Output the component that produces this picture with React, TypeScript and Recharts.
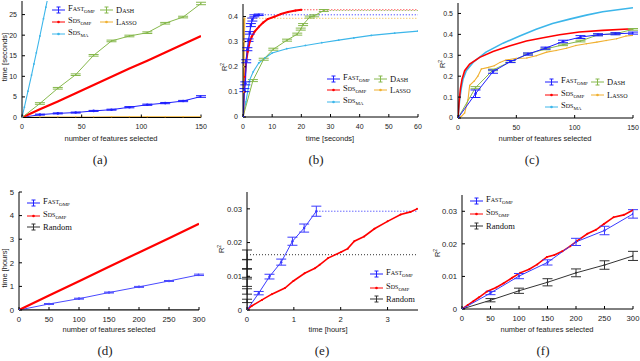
import React from 'react';
import { LineChart, Line, XAxis, YAxis, ErrorBar } from 'recharts';

// ---------- data ----------
// (a) running time vs number of features
const aFeat = [0, 15, 30, 45, 60, 75, 90, 105, 120, 135, 150];
const aFastTime = [0, 0.7, 1.0, 1.2, 1.6, 1.9, 2.5, 3.1, 3.5, 4.0, 5.1];
const aFastErr = [0, 0.12, 0.12, 0.12, 0.12, 0.12, 0.15, 0.15, 0.15, 0.15, 0.2];
const aSdsOmpTime = [0, 2.0, 3.9, 5.9, 7.9, 9.9, 11.9, 13.8, 15.8, 17.8, 19.8];
const aSdsMaFeat = [0, 2, 5, 8, 10, 12, 15, 18, 20, 22];
const aSdsMaTime = [0, 2.5, 6.4, 10.3, 13, 15.7, 19.8, 24, 26.8, 29.6];
const aDashTime = [0, 3.4, 7.1, 10.4, 15.1, 18.6, 19.8, 20.6, 22.9, 24.4, 27.7];
const aDashErr = [0, 0.2, 0.2, 0.2, 0.2, 0.2, 0.2, 0.2, 0.2, 0.2, 0.3];
const aLassoTime = [0, 0.08, 0.1, 0.12, 0.12, 0.13, 0.15, 0.14, 0.13, 0.14, 0.15];

// (b) R^2 vs time (seconds)
const bFastT = [0, 0.5, 0.8, 1.1, 1.5, 1.9, 2.3, 2.7, 3.2, 3.9, 5.4];
const bFastR = [0, 0.107, 0.134, 0.222, 0.27, 0.306, 0.335, 0.366, 0.388, 0.403, 0.407];
const bFastErr = [0, 0.006, 0.006, 0.006, 0.006, 0.005, 0.005, 0.006, 0.006, 0.004, 0.003];
const bSdsOmpT = [0, 0.3, 0.6, 1.1, 1.6, 2.3, 3, 4, 5.5, 6.9, 8.5, 10.9, 13, 15.4, 18, 20];
const bSdsOmpR = [0, 0.1, 0.16, 0.222, 0.26, 0.3, 0.32, 0.34, 0.36, 0.376, 0.39, 0.4, 0.41, 0.418, 0.424, 0.427];
const bSdsMaT = [0, 1, 2.3, 3.5, 5.4, 7.5, 10, 15, 21.4, 27, 32.8, 38, 44, 52, 60];
const bSdsMaR = [0, 0.06, 0.148, 0.18, 0.215, 0.235, 0.255, 0.272, 0.285, 0.296, 0.306, 0.315, 0.325, 0.334, 0.342];
const bDashT = [0, 3.4, 7.1, 10.4, 15.1, 18.6, 19.8, 20.6, 22.9, 24.4, 27.7];
const bDashR = [0, 0.145, 0.23, 0.27, 0.306, 0.33, 0.35, 0.368, 0.398, 0.403, 0.424];
const bDashErr = [0, 0.004, 0.004, 0.004, 0.004, 0.004, 0.004, 0.004, 0.004, 0.004, 0.004];
const bLassoT = [0, 0.1, 0.2, 0.3, 0.45];
const bLassoR = [0, 0.1, 0.2, 0.3, 0.393];

// (c) R^2 vs number of features
const cFeat = [0, 15, 30, 45, 60, 75, 90, 105, 120, 135, 150];
const cFastR = [0, 0.116, 0.222, 0.27, 0.306, 0.334, 0.366, 0.387, 0.398, 0.403, 0.406];
const cFastErr = [0, 0.018, 0.008, 0.005, 0.005, 0.005, 0.006, 0.007, 0.005, 0.005, 0.005];
const cDashR = [0, 0.145, 0.23, 0.27, 0.306, 0.33, 0.35, 0.368, 0.398, 0.403, 0.424];
const cDashErr = [0, 0.005, 0.004, 0.004, 0.004, 0.004, 0.004, 0.004, 0.004, 0.004, 0.004];
const cSdsMaK = [0, 1.4, 2.9, 4.3, 7.1, 12.9, 24, 38.6, 52.9, 67, 81, 95.7, 110, 124, 150];
const cSdsMaR = [0, 0.089, 0.145, 0.185, 0.226, 0.266, 0.315, 0.358, 0.392, 0.424, 0.452, 0.473, 0.492, 0.508, 0.527];
const cSdsOmpK = [0, 0.9, 2, 3.4, 5.7, 10, 18.6, 30, 44, 58.6, 73, 87, 104, 124, 150];
const cSdsOmpR = [0, 0.073, 0.137, 0.185, 0.226, 0.258, 0.29, 0.318, 0.344, 0.368, 0.384, 0.398, 0.411, 0.419, 0.427];
const cLassoK = [0, 3, 5.7, 8.6, 10, 14, 17, 20, 26, 31, 36, 41, 50, 59, 67, 76, 84, 93, 101, 110, 119, 127, 136, 144, 150];
const cLassoR = [0, 0.008, 0.024, 0.089, 0.156, 0.177, 0.2, 0.234, 0.242, 0.25, 0.266, 0.277, 0.285, 0.287, 0.298, 0.315, 0.323, 0.334, 0.347, 0.355, 0.363, 0.371, 0.379, 0.392, 0.395];

// (d) time (hours) vs number of features
const dFeat = [0, 50, 100, 150, 200, 250, 300];
const dFastH = [0, 0.255, 0.48, 0.74, 0.98, 1.23, 1.49];
const dFastErr = [0, 0.02, 0.02, 0.02, 0.02, 0.02, 0.03];
const dSdsOmpH = [0, 0.61, 1.22, 1.83, 2.44, 3.04, 3.65];
const dRandomH = [0, 0, 0, 0, 0, 0, 0];

// (e) R^2 vs time (hours)
const eFastT = [0, 0.25, 0.48, 0.73, 0.97, 1.22, 1.48];
const eFastR = [0, 0.005, 0.0099, 0.0142, 0.0204, 0.0243, 0.0293];
const eFastErr = [0, 0.0005, 0.0007, 0.0009, 0.0012, 0.0012, 0.0015];
const eSdsT = [0, 0.1, 0.32, 0.53, 0.81, 0.99, 1.23, 1.45, 1.55, 1.73, 2.01, 2.15, 2.29, 2.5, 2.72, 3.0, 3.28, 3.49, 3.63];
const eSdsR = [0, 0.0012, 0.003, 0.0047, 0.0065, 0.0086, 0.0109, 0.0124, 0.0134, 0.0154, 0.0172, 0.0182, 0.0204, 0.0218, 0.0241, 0.0263, 0.0283, 0.0291, 0.03];
const eRandT = [0, 0, 0, 0, 0, 0, 0];
const eRandR = [0, 0.0027, 0.0055, 0.0081, 0.0109, 0.0136, 0.0164];
const eRandErr = [0, 0.0005, 0.0008, 0.0011, 0.0012, 0.0013, 0.0014];

// (f) R^2 vs number of features
const fFeat = [0, 50, 100, 150, 200, 250, 300];
const fFastR = [0, 0.0049, 0.0101, 0.0143, 0.0206, 0.0241, 0.0292];
const fFastErr = [0, 0.0005, 0.0008, 0.0008, 0.0011, 0.0013, 0.0013];
const fRandR = [0, 0.0027, 0.0056, 0.0082, 0.0111, 0.0135, 0.0163];
const fRandErr = [0, 0.0005, 0.0008, 0.0011, 0.0012, 0.0013, 0.0014];
const fSdsK = [0, 10, 20, 30, 44, 60, 73, 88, 102, 118, 132, 149, 162, 176, 190, 202, 220, 235, 249, 266, 284, 300];
const fSdsR = [0, 0.0012, 0.0024, 0.0036, 0.0054, 0.0066, 0.0079, 0.0096, 0.0111, 0.0122, 0.0137, 0.016, 0.0166, 0.0177, 0.0193, 0.0209, 0.0231, 0.0243, 0.0261, 0.0282, 0.0289, 0.0304];

// ticks
const ticksFeat150 = [0, 50, 100, 150];
const ticksFeat300 = [0, 50, 100, 150, 200, 250, 300];
const ticksSec = [0, 10, 20, 30, 40, 50, 60];
const ticksHours = [0, 1, 2, 3];
const ticksTimeA = [0, 5, 10, 15, 20, 25];
const ticksR2b = [0, 0.1, 0.2, 0.3, 0.4];
const ticksR2c = [0, 0.1, 0.2, 0.3, 0.4, 0.5];
const ticksTimeD = [0, 1, 2, 3, 4, 5];
const ticksR2small = [0, 0.01, 0.02, 0.03];

// ---------- helpers ----------
type Pt = { x: number; y: number; e?: number };
const zip = (xs: number[], ys: number[], es?: number[]): Pt[] =>
  xs.map((x, i) => ({ x, y: ys[i], e: es ? es[i] : undefined }));
const last = (xs: number[], ys: number[]) => ({ x: xs[xs.length - 1], y: ys[ys.length - 1] });
const flat = (xs: number[], ys: number[], xEnd: number): Pt[] => {
  const p = last(xs, ys);
  return [p, { x: xEnd, y: p.y }];
};

const BLUE = '#1f1fff';
const RED = '#ff0000';
const CYAN = '#3cb6ea';
const GREEN = '#86b84c';
const ORANGE = '#f0b030';
const BLACK = '#333333';
const SANS = '"Liberation Sans", Arial, sans-serif';
const SERIF = '"Liberation Serif", "Times New Roman", serif';

const YW = 30, TM = 4, RM = 14, XH = 18;

type Box = { x0: number; x1: number; y0: number; y1: number };

function Panel(props: {
  box: Box; xDomain: number[]; yDomain: number[]; xTicks: number[]; yTicks: number[]; fs: number; children: React.ReactNode;
}) {
  const { box, xDomain, yDomain, xTicks, yTicks, fs, children } = props;
  const w = box.x1 - box.x0;
  const h = box.y1 - box.y0;
  const tickStyle = { fontSize: fs, fill: '#222', fontFamily: SANS };
  return (
    <div style={{ position: 'absolute', left: box.x0 - YW, top: box.y0 - TM }}>
      <LineChart width={YW + w + RM} height={TM + h + XH} margin={{ top: TM, right: RM, left: 0, bottom: 0 }}>
        <XAxis type="number" dataKey="x" domain={xDomain} ticks={xTicks} interval={0} allowDataOverflow height={XH}
          tickSize={-3} tickMargin={10} tick={tickStyle} stroke="#000" />
        <XAxis xAxisId="t" orientation="top" type="number" dataKey="x" domain={xDomain} ticks={xTicks} interval={0}
          allowDataOverflow height={0} tickSize={-3} tick={false} stroke="#000" />
        <YAxis type="number" domain={yDomain} ticks={yTicks} interval={0} allowDataOverflow width={YW}
          tickSize={-3} tickMargin={8} tick={tickStyle} stroke="#000" />
        <YAxis yAxisId="r" orientation="right" type="number" domain={yDomain} ticks={yTicks} interval={0}
          allowDataOverflow width={0} tickSize={-3} tick={false} stroke="#000" />
        {children}
      </LineChart>
    </div>
  );
}

function errLine(key: string, data: Pt[], color: string, sw = 1, r = 1.3) {
  return (
    <Line key={key} data={data} dataKey="y" stroke={color} strokeWidth={sw} isAnimationActive={false}
      dot={{ r, fill: color, stroke: color, strokeWidth: 0 }} activeDot={false}>
      <ErrorBar dataKey="e" width={5} stroke={color} strokeWidth={1} direction="y" isAnimationActive={false} />
    </Line>
  );
}
function dotLine(key: string, data: Pt[], color: string, sw = 1, r = 1) {
  return (
    <Line key={key} data={data} dataKey="y" stroke={color} strokeWidth={sw} isAnimationActive={false}
      dot={r > 0 ? { r, fill: color, stroke: color, strokeWidth: 0 } : false} activeDot={false} />
  );
}
function dotted(key: string, data: Pt[], color: string) {
  return (
    <Line key={key} data={data} dataKey="y" stroke={color} strokeWidth={1} strokeDasharray="1 2"
      isAnimationActive={false} dot={false} activeDot={false} />
  );
}

// ---------- text helpers ----------
function Txt(props: { x: number; y: number; rot?: boolean; size: number; family: string; children: React.ReactNode }) {
  const { x, y, rot, size, family, children } = props;
  return (
    <div style={{
      position: 'absolute', left: x, top: y, transform: `translate(-50%,-50%)${rot ? ' rotate(-90deg)' : ''}`,
      fontSize: size, fontFamily: family, whiteSpace: 'nowrap', lineHeight: 1, color: '#222',
    }}>{children}</div>
  );
}
const R2 = () => (<span>R<sup style={{ fontSize: 5, verticalAlign: '3px' }}>2</sup></span>);

function Name(props: { main: string; sub?: string; sc?: boolean }) {
  return (
    <span>
      <span style={{ fontVariant: props.sc === false ? 'normal' : 'small-caps' }}>{props.main}</span>
      {props.sub ? <span style={{ fontSize: 5, verticalAlign: '-2px' }}>{props.sub}</span> : null}
    </span>
  );
}

function Leg(props: { x: number; y: number; color: string; kind: 'err' | 'dot'; children: React.ReactNode }) {
  const { x, y, color, kind, children } = props;
  return (
    <div style={{
      position: 'absolute', left: x, top: y - 6, height: 12, display: 'flex', alignItems: 'center',
      whiteSpace: 'nowrap', fontFamily: SERIF, fontSize: 8.5, color: '#111', lineHeight: '12px',
    }}>
      <svg width={13} height={12} style={{ marginRight: 3, display: 'block' }}>
        <line x1={0} y1={6} x2={13} y2={6} stroke={color} strokeWidth={1} />
        {kind === 'err' ? (
          <g stroke={color} strokeWidth={1}>
            <line x1={6.5} y1={3} x2={6.5} y2={9} />
            <line x1={4.5} y1={3} x2={8.5} y2={3} />
            <line x1={4.5} y1={9} x2={8.5} y2={9} />
          </g>
        ) : (
          <circle cx={6.5} cy={6} r={1.3} fill={color} />
        )}
      </svg>
      {children}
    </div>
  );
}

function Legend5(props: { c1: number; c2: number; rows: number[] }) {
  const { c1, c2, rows } = props;
  return (
    <>
      <Leg x={c1} y={rows[0]} color={BLUE} kind="err"><Name main="Fast" sub="OMP" /></Leg>
      <Leg x={c1} y={rows[1]} color={RED} kind="dot"><Name main="Sds" sub="OMP" /></Leg>
      <Leg x={c1} y={rows[2]} color={CYAN} kind="dot"><Name main="Sds" sub="MA" /></Leg>
      <Leg x={c2} y={rows[0]} color={GREEN} kind="err"><Name main="Dash" /></Leg>
      <Leg x={c2} y={rows[1]} color={ORANGE} kind="dot"><Name main="Lasso" /></Leg>
    </>
  );
}
function Legend3(props: { c1: number; rows: number[] }) {
  const { c1, rows } = props;
  return (
    <>
      <Leg x={c1} y={rows[0]} color={BLUE} kind="err"><Name main="Fast" sub="OMP" /></Leg>
      <Leg x={c1} y={rows[1]} color={RED} kind="dot"><Name main="Sds" sub="OMP" /></Leg>
      <Leg x={c1} y={rows[2]} color={BLACK} kind="err"><Name main="Random" sc={false} /></Leg>
    </>
  );
}

const boxA: Box = { x0: 22, x1: 201, y0: 0.5, y1: 117 };
const boxB: Box = { x0: 243, x1: 418, y0: 4, y1: 117 };
const boxC: Box = { x0: 458, x1: 633, y0: 3, y1: 118 };
const boxD: Box = { x0: 19, x1: 199, y0: 192, y1: 310 };
const boxE: Box = { x0: 247, x1: 418, y0: 192, y1: 310 };
const boxF: Box = { x0: 462, x1: 633, y0: 195, y1: 309 };

export default function App() {
  return (
    <div style={{ position: 'absolute', left: 0, top: 0, width: 640, height: 361, background: '#fff', overflow: 'hidden' }}>
      {/* (a) */}
      <Panel box={boxA} xDomain={[0, 150]} yDomain={[0, 28.3]} xTicks={ticksFeat150} yTicks={ticksTimeA} fs={7}>
        {errLine('aFast', zip(aFeat, aFastTime, aFastErr), BLUE, 1)}
        {dotLine('aSdsOmp', zip(aFeat, aSdsOmpTime), RED, 2.2, 0)}
        {dotLine('aSdsMa', zip(aSdsMaFeat, aSdsMaTime), CYAN, 1.1, 0.9)}
        {errLine('aDash', zip(aFeat, aDashTime, aDashErr), GREEN, 1, 0.8)}
        {dotLine('aLasso', zip(aFeat, aLassoTime), ORANGE, 1.2, 0.8)}
      </Panel>
      {/* (b) */}
      <Panel box={boxB} xDomain={[0, 60]} yDomain={[0, 0.45]} xTicks={ticksSec} yTicks={ticksR2b} fs={7}>
        {dotted('bFastD', flat(bFastT, bFastR, 60), BLUE)}
        {dotted('bSdsD', flat(bSdsOmpT, bSdsOmpR, 60), RED)}
        {dotted('bDashD', flat(bDashT, bDashR, 60), GREEN)}
        {dotted('bLassoD', flat(bLassoT, bLassoR, 60), ORANGE)}
        {dotLine('bSdsMa', zip(bSdsMaT, bSdsMaR), CYAN, 1.1, 0.9)}
        {errLine('bDash', zip(bDashT, bDashR, bDashErr), GREEN, 1, 0.8)}
        {dotLine('bSdsOmp', zip(bSdsOmpT, bSdsOmpR), RED, 2, 1.1)}
        {dotLine('bLasso', zip(bLassoT, bLassoR), ORANGE, 2, 0.8)}
        {errLine('bFast', zip(bFastT, bFastR, bFastErr), BLUE, 1.2)}
      </Panel>
      {/* (c) */}
      <Panel box={boxC} xDomain={[0, 150]} yDomain={[0, 0.55]} xTicks={ticksFeat150} yTicks={ticksR2c} fs={7}>
        {dotLine('cSdsMa', zip(cSdsMaK, cSdsMaR), CYAN, 1.6, 0)}
        {dotLine('cLasso', zip(cLassoK, cLassoR), ORANGE, 1.1, 0.7)}
        {dotLine('cSdsOmp', zip(cSdsOmpK, cSdsOmpR), RED, 1.6, 0)}
        {errLine('cDash', zip(cFeat, cDashR, cDashErr), GREEN, 1, 0.8)}
        {errLine('cFast', zip(cFeat, cFastR, cFastErr), BLUE, 1)}
      </Panel>
      {/* (d) */}
      <Panel box={boxD} xDomain={[0, 300]} yDomain={[0, 5]} xTicks={ticksFeat300} yTicks={ticksTimeD} fs={7.7}>
        {dotLine('dRand', zip(dFeat, dRandomH), BLACK, 1, 0)}
        {errLine('dFast', zip(dFeat, dFastH, dFastErr), '#4a4aff', 1, 1.3)}
        {dotLine('dSdsOmp', zip(dFeat, dSdsOmpH), RED, 2.2, 0)}
      </Panel>
      {/* (e) */}
      <Panel box={boxE} xDomain={[0, 3.65]} yDomain={[0, 0.035]} xTicks={ticksHours} yTicks={ticksR2small} fs={7.7}>
        {dotted('eFastD', flat(eFastT, eFastR, 3.65), BLUE)}
        {dotted('eRandD', flat(eRandT, eRandR, 3.65), BLACK)}
        {dotLine('eSds', zip(eSdsT, eSdsR), RED, 1.6, 1)}
        {errLine('eFast', zip(eFastT, eFastR, eFastErr), '#3a3aff', 1, 1.2)}
        {errLine('eRand', zip(eRandT, eRandR, eRandErr), BLACK, 1, 1)}
      </Panel>
      {/* (f) */}
      <Panel box={boxF} xDomain={[0, 300]} yDomain={[0, 0.035]} xTicks={ticksFeat300} yTicks={ticksR2small} fs={7.7}>
        {errLine('fRand', zip(fFeat, fRandR, fRandErr), BLACK, 1, 1)}
        {dotLine('fSds', zip(fSdsK, fSdsR), RED, 1.6, 1)}
        {errLine('fFast', zip(fFeat, fFastR, fFastErr), '#3a3aff', 1, 1.2)}
      </Panel>

      {/* legends */}
      <Legend5 c1={52} c2={100} rows={[10, 22, 34]} />
      <Legend5 c1={327} c2={374} rows={[79, 90, 102]} />
      <Legend5 c1={545} c2={591} rows={[82, 95, 107]} />
      <Legend3 c1={27} rows={[203, 216, 227]} />
      <Legend3 c1={370} rows={[274, 288, 299]} />
      <Legend3 c1={470} rows={[201, 214, 226]} />

      {/* axis titles */}
      <Txt x={5} y={57} rot size={7.5} family={SANS}>time [seconds]</Txt>
      <Txt x={224} y={67} rot size={7.5} family={SANS}><R2 /></Txt>
      <Txt x={442} y={64} rot size={7.5} family={SANS}><R2 /></Txt>
      <Txt x={5} y={268} rot size={7.5} family={SANS}>time [hours]</Txt>
      <Txt x={221} y={249} rot size={7.5} family={SANS}><R2 /></Txt>
      <Txt x={437} y={253} rot size={7.5} family={SANS}><R2 /></Txt>

      <Txt x={111} y={139} size={7.5} family={SANS}>number of features selected</Txt>
      <Txt x={330} y={139} size={7.5} family={SANS}>time [seconds]</Txt>
      <Txt x={545} y={139} size={7.5} family={SANS}>number of features selected</Txt>
      <Txt x={109} y={330} size={7.5} family={SANS}>number of features selected</Txt>
      <Txt x={328} y={330} size={7.5} family={SANS}>time [hours]</Txt>
      <Txt x={547} y={330} size={7.5} family={SANS}>number of features selected</Txt>

      {/* panel labels */}
      <Txt x={100} y={159} size={13} family={SERIF}>(a)</Txt>
      <Txt x={316} y={159} size={13} family={SERIF}>(b)</Txt>
      <Txt x={532} y={159} size={13} family={SERIF}>(c)</Txt>
      <Txt x={105} y={350} size={13} family={SERIF}>(d)</Txt>
      <Txt x={322} y={350} size={13} family={SERIF}>(e)</Txt>
      <Txt x={543} y={350} size={13} family={SERIF}>(f)</Txt>
    </div>
  );
}
